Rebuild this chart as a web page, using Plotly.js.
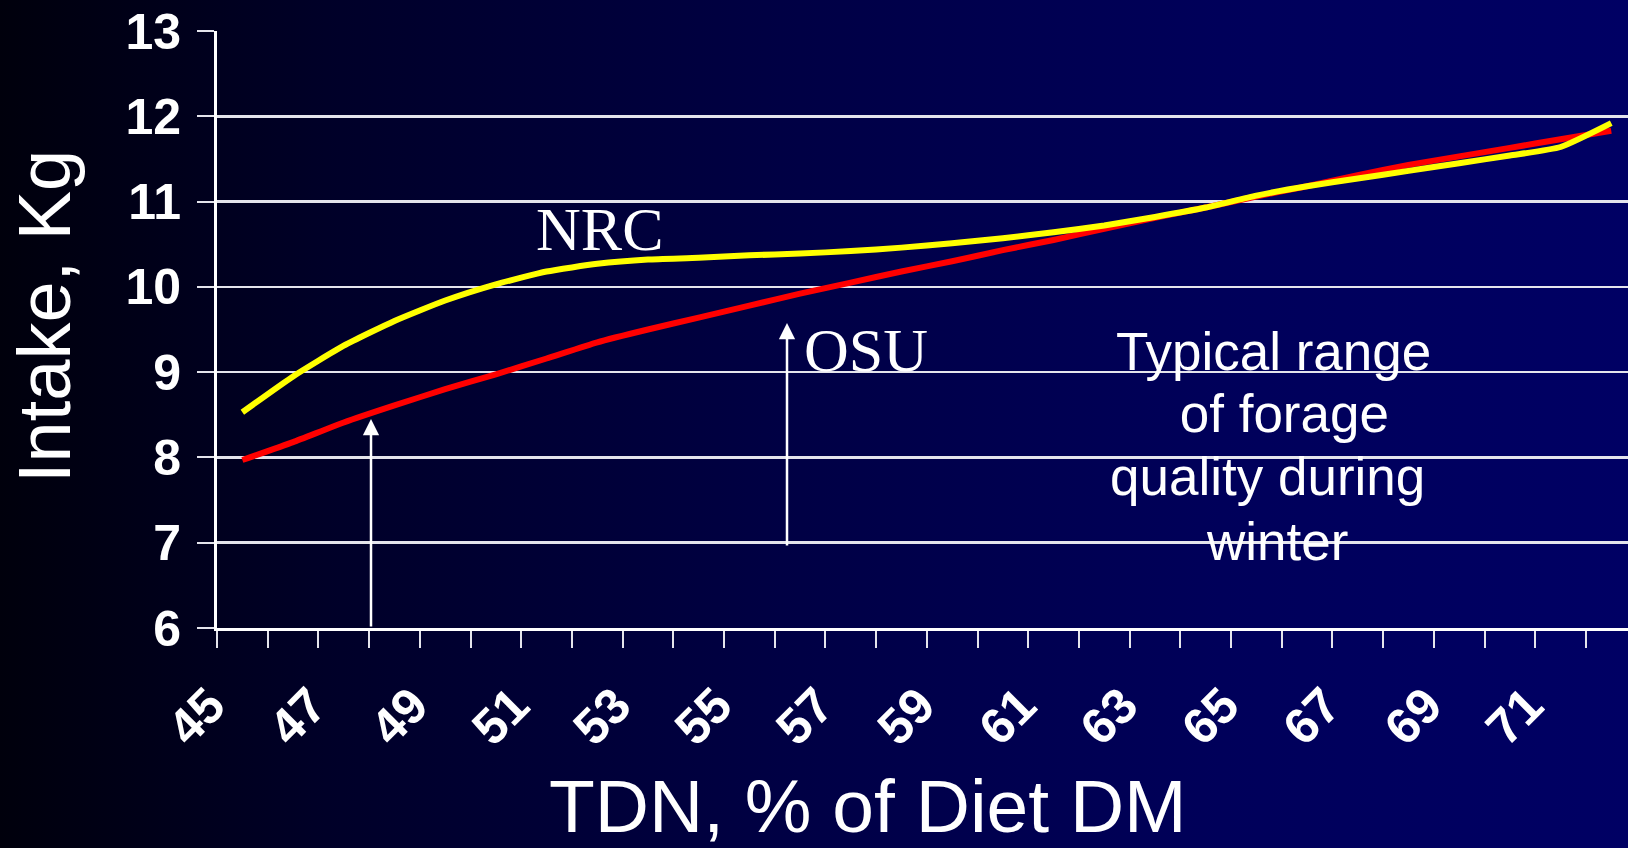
<!DOCTYPE html>
<html>
<head>
<meta charset="utf-8">
<script src="https://cdn.plot.ly/plotly-3.0.1.min.js"></script>
<style>
  html, body { margin: 0; padding: 0; width: 1628px; height: 848px; overflow: hidden; }
  body { background: linear-gradient(to right, #00000c 0%, #000028 20%, #000044 48%, #00005a 75%, #000064 100%); }
  #chart { width: 1628px; height: 848px; }
</style>
</head>
<body>
<div id="chart"></div>
<script>
// TDN, % of Diet DM (categories)
const tdn = [45,46,47,48,49,50,51,52,53,54,55,56,57,58,59,60,61,62,63,64,65,66,67,68,69,70,71,72];
// Intake, Kg
const nrc = [8.53,8.95,9.31,9.60,9.84,10.03,10.18,10.27,10.32,10.34,10.37,10.39,10.42,10.46,10.51,10.57,10.64,10.72,10.82,10.93,11.07,11.18,11.27,11.36,11.45,11.54,11.64,11.92];
const osu = [7.97,8.18,8.41,8.61,8.80,8.975,9.16,9.35,9.50,9.64,9.78,9.92,10.05,10.18,10.30,10.43,10.55,10.68,10.81,10.93,11.06,11.18,11.31,11.43,11.53,11.63,11.73,11.83];

const xTickVals = [45,47,49,51,53,55,57,59,61,63,65,67,69,71];
const xTickText = ['45','47','49','51','53','55','57','59','61','63','65','67','69','71'];
const yTickVals = [6,7,8,9,10,11,12,13];
const yTickText = ['6','7','8','9','10','11','12','13'];

const boxLines = ['Typical range', ' of forage', 'quality during', 'winter'];

const L = 217, T = 31, PW = 1411, PH = 597;
const xr = [44.5, 44.5 + PW / 50.7];

const white = '#ffffff';
const grid = '#e4e4ec';
const sans = 'Liberation Sans, Arial, sans-serif';
const serif = 'Liberation Serif, Times New Roman, serif';

const traces = [
  { x: tdn, y: osu, type: 'scatter', mode: 'lines', name: 'OSU',
    line: { color: '#ff0000', width: 6, shape: 'spline', smoothing: 0.5 }, hoverinfo: 'skip' },
  { x: tdn, y: nrc, type: 'scatter', mode: 'lines', name: 'NRC',
    line: { color: '#ffff00', width: 6, shape: 'spline', smoothing: 0.5 }, hoverinfo: 'skip' }
];

function px2y(p) { return 6 + (628 - p) / 85.3; }
function px2x(p) { return 44.5 + (p - 217) / 50.7; }

const annotations = [
  { x: px2x(599), y: px2y(229), xref: 'x', yref: 'y', text: 'NRC', showarrow: false,
    font: { family: serif, size: 62, color: white }, xanchor: 'center', yanchor: 'middle' },
  { x: px2x(866), y: px2y(350), xref: 'x', yref: 'y', text: 'OSU', showarrow: false,
    font: { family: serif, size: 62, color: white }, xanchor: 'center', yanchor: 'middle' },
  // arrows
  { x: px2x(371), y: px2y(419), ax: px2x(371), ay: 6, xref: 'x', yref: 'y', axref: 'x', ayref: 'y',
    text: '', showarrow: true, arrowhead: 2, arrowsize: 1.3, arrowwidth: 2.5, arrowcolor: white },
  { x: px2x(787), y: px2y(323), ax: px2x(787), ay: px2y(547), xref: 'x', yref: 'y', axref: 'x', ayref: 'y',
    text: '', showarrow: true, arrowhead: 2, arrowsize: 1.3, arrowwidth: 2.5, arrowcolor: white },
  // axis titles
  { x: (868 - L) / PW, y: -(806 - 628) / PH, xref: 'paper', yref: 'paper', text: 'TDN, % of Diet DM',
    showarrow: false, font: { family: sans, size: 75, color: white }, xanchor: 'center', yanchor: 'middle' },
  { x: (44 - L) / PW, y: (628 - 317) / PH, xref: 'paper', yref: 'paper', text: 'Intake, Kg',
    showarrow: false, textangle: -90, font: { family: sans, size: 74, color: white }, xanchor: 'center', yanchor: 'middle' }
];

const boxX = [1273, 1277, 1267, 1277];
const boxY = [351, 413, 476, 541];
boxLines.forEach((t, i) => {
  annotations.push({ x: px2x(boxX[i]), y: px2y(boxY[i]), xref: 'x', yref: 'y', text: t, showarrow: false,
    font: { family: sans, size: 53, color: white }, xanchor: 'center', yanchor: 'middle' });
});

const layout = {
  width: 1628, height: 848,
  margin: { l: L, r: 0, t: T, b: 848 - T - PH, pad: 0 },
  paper_bgcolor: 'rgba(0,0,0,0)',
  plot_bgcolor: 'rgba(0,0,0,0)',
  showlegend: false,
  xaxis: {
    range: xr, tickmode: 'array', tickvals: xTickVals, ticktext: xTickText,
    tickangle: -45, ticks: '', showgrid: false, zeroline: false,
    showline: true, linecolor: white, linewidth: 3,
    tickfont: { family: sans, size: 50, color: white, weight: 'bold' },
    ticklabelstandoff: 25, ticklabelshift: -32,
    minor: { tickmode: 'linear', tick0: 44.5, dtick: 1, ticks: 'outside', ticklen: 17, tickwidth: 2, tickcolor: grid, showgrid: false }
  },
  yaxis: {
    range: [6, 13], tickmode: 'array', tickvals: yTickVals, ticktext: yTickText,
    ticks: 'outside', ticklen: 17, tickwidth: 2, tickcolor: grid,
    showgrid: true, gridcolor: grid, gridwidth: 2.5, zeroline: false,
    showline: true, linecolor: white, linewidth: 3,
    tickfont: { family: sans, size: 50, color: white, weight: 'bold' },
    ticklabelstandoff: 6
  },
  annotations: annotations
};

Plotly.newPlot('chart', traces, layout, { staticPlot: true, displayModeBar: false });
</script>
</body>
</html>
